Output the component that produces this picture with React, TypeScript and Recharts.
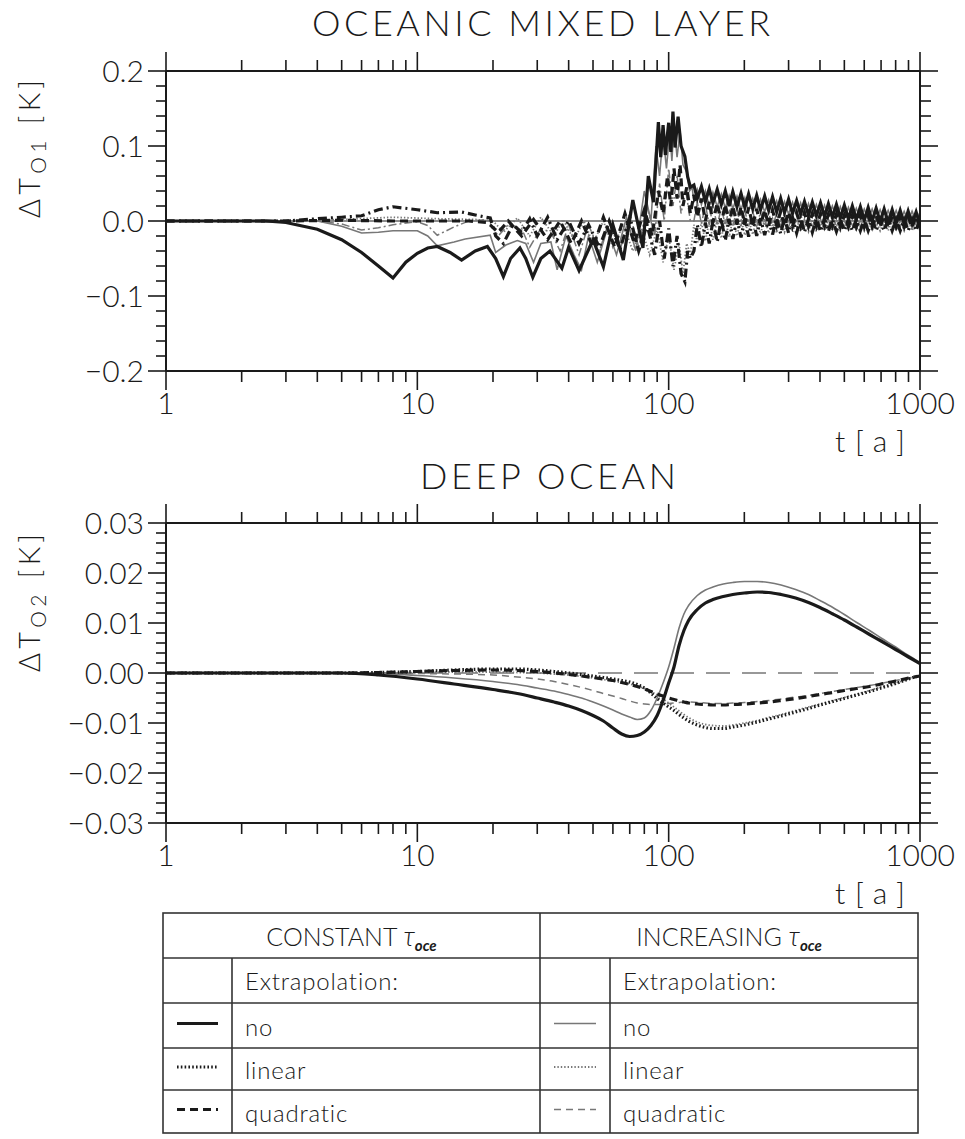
import React from "react";
import { LineChart, Line, XAxis, YAxis, ReferenceLine } from "recharts";

const W = 965;
const PANEL_H = 450;
const FONT = "Lato, 'DejaVu Sans', sans-serif";
const INK = "#1a1a1a";
const GRAY = "#777777";

// ---- axes ----
const xTicks = [1, 2, 3, 4, 5, 6, 7, 8, 9, 10, 20, 30, 40, 50, 60, 70, 80, 90, 100, 200, 300, 400, 500, 600, 700, 800, 900, 1000];
const xLabels = [1, 10, 100, 1000];

const topYTicks = [
  -0.2, -0.18, -0.16, -0.14, -0.12, -0.1, -0.08, -0.06, -0.04, -0.02, 0,
  0.02, 0.04, 0.06, 0.08, 0.1, 0.12, 0.14, 0.16, 0.18, 0.2,
];
const topYLabels = [-0.2, -0.1, 0, 0.1, 0.2];

const botYTicks = [
  -0.03, -0.028, -0.026, -0.024, -0.022, -0.02, -0.018, -0.016, -0.014, -0.012,
  -0.01, -0.008, -0.006, -0.004, -0.002, 0, 0.002, 0.004, 0.006, 0.008,
  0.01, 0.012, 0.014, 0.016, 0.018, 0.02, 0.022, 0.024, 0.026, 0.028, 0.03,
];
const botYLabels = [-0.03, -0.02, -0.01, 0, 0.01, 0.02, 0.03];

// ---- top panel: oceanic mixed layer ----
const topConstNoHead: [number, number][] = [
  [1, 0], [2.5, 0], [3, -0.002], [4, -0.011], [5, -0.025], [6, -0.042], [7, -0.06], [8, -0.076],
  [9, -0.055], [10, -0.043], [11, -0.036], [12, -0.034], [13.5, -0.042], [15, -0.052], [17, -0.04],
  [19, -0.034], [20.5, -0.05], [22, -0.074], [23.5, -0.05], [25.6, -0.036], [27, -0.05], [28.8, -0.075],
  [31, -0.05], [33.7, -0.04], [37.6, -0.063], [40, -0.035], [44, -0.066], [50, -0.025], [55, -0.061],
  [60, -0.005], [66, -0.052], [72, 0.028], [79, -0.036], [83, 0.06], [87, 0.025], [91, 0.132],
  [93, 0.085], [95, 0.128], [97, 0.088], [100, 0.131], [102, 0.092], [104, 0.146], [106, 0.098],
  [109, 0.139], [112, 0.1], [116, 0.086], [119, 0.059], [122, 0.045],
];
const topIncNoHead: [number, number][] = [
  [1, 0], [4, 0], [5, -0.007], [6, -0.016], [7, -0.015], [8, -0.013], [10, -0.013], [11, -0.02],
  [12, -0.033], [14, -0.028], [15.5, -0.024], [19.5, -0.019], [20.5, -0.042], [22.5, -0.032],
  [25, -0.026], [27, -0.03], [29, -0.055], [31, -0.03], [34, -0.028], [36, -0.065], [39, -0.02],
  [42, -0.045], [45, -0.065], [48, -0.02], [52, -0.055], [57, -0.01], [62, -0.045], [68, 0.005],
  [74, -0.04], [80, 0.04], [85, 0.0], [89, 0.1], [92, 0.06], [95, 0.115], [98, 0.07], [101, 0.12],
  [103, 0.08], [105, 0.13], [108, 0.085], [111, 0.12], [114, 0.075], [118, 0.065], [121, 0.04], [124, 0.045],
];
const topConstLinHead: [number, number][] = [
  [1, 0], [3, 0], [4, 0.003], [5, 0.005], [6, 0.007], [7, 0.015], [8, 0.019], [10, 0.015], [12, 0.011],
  [15, 0.012], [17, 0.008], [19.5, 0.004], [20.5, -0.02], [22, -0.03], [24, -0.005], [26, -0.015],
  [28, 0.003], [30, -0.02], [33, 0.005], [36, -0.025], [40, 0.0], [44, -0.03], [48, -0.005], [53, -0.035],
  [58, 0.0], [64, -0.038], [70, 0.005], [76, -0.04], [82, -0.005], [88, -0.045], [92, 0.0], [96, -0.05],
  [100, -0.01], [104, -0.06], [108, -0.02], [112, -0.07], [116, -0.081], [119, -0.04], [122, -0.05],
];
const topIncLinHead: [number, number][] = [
  [1, 0], [3, 0], [5, 0.002], [8, 0.005], [12, 0.003], [17, 0.002], [20, 0.0], [22, -0.015], [25, 0.004],
  [28, -0.02], [31, 0.005], [35, -0.02], [38, 0.002], [42, -0.025], [46, 0.0], [50, -0.03], [55, 0.0],
  [60, -0.035], [66, -0.005], [72, -0.04], [78, -0.01], [84, -0.045], [90, -0.01], [95, -0.055],
  [100, -0.02], [105, -0.065], [110, -0.03], [114, -0.07], [118, -0.03], [122, -0.045],
];
const topConstQuadHead: [number, number][] = [
  [1, 0], [3, 0], [5, 0.001], [8, 0.0], [12, 0.0], [16, 0.0], [19, -0.002], [21, -0.015], [23, 0.0],
  [26, -0.02], [29, 0.002], [33, -0.025], [37, 0.0], [41, -0.03], [45, 0.0], [50, -0.035], [55, 0.005],
  [61, -0.035], [67, 0.01], [73, -0.03], [80, 0.015], [86, -0.02], [91, 0.04], [95, 0.01], [99, 0.06],
  [102, 0.02], [105, 0.07], [108, 0.03], [111, 0.075], [114, 0.02], [118, 0.045], [122, 0.01],
];
const topIncQuadHead: [number, number][] = [
  [1, 0], [4, 0], [5, -0.004], [6, -0.012], [7, -0.009], [8, -0.005], [10, -0.001], [11, -0.006],
  [12, -0.019], [14, -0.008], [16, 0.0], [19, 0.002], [21, -0.02], [23, -0.005], [26, -0.01], [28, -0.035],
  [31, -0.01], [34, -0.015], [37, -0.04], [40, -0.005], [44, -0.045], [48, -0.005], [53, -0.04], [58, 0.0],
  [64, -0.04], [70, 0.01], [76, -0.035], [82, 0.02], [88, -0.02], [92, 0.05], [96, 0.0], [100, 0.07],
  [104, 0.02], [108, 0.06], [112, 0.01], [117, 0.04], [122, 0.0],
];

// oscillating tail, shared time grid
const topTailT = [
  126, 130, 135, 140, 145, 150, 156, 162, 168, 174,
  180, 187, 194, 201, 208, 216, 224, 232, 241, 250,
  259, 269, 279, 289, 300, 311, 323, 335, 347, 360,
  373, 387, 402, 417, 432, 448, 465, 482, 500, 519,
  538, 558, 579, 600, 622, 645, 669, 694, 720, 747,
  775, 804, 834, 865, 897, 930, 965, 1000,
];
const topConstNoTail = [
  0.048, 0.030, 0.046, 0.026, 0.043, 0.024, 0.042, 0.022, 0.040, 0.020,
  0.039, 0.019, 0.037, 0.018, 0.036, 0.016, 0.034, 0.015, 0.033, 0.014,
  0.032, 0.012, 0.030, 0.011, 0.029, 0.010, 0.027, 0.009, 0.026, 0.008,
  0.025, 0.007, 0.024, 0.006, 0.023, 0.005, 0.022, 0.004, 0.021, 0.003,
  0.020, 0.002, 0.019, 0.001, 0.018, 0.000, 0.017, -0.001, 0.016, -0.002,
  0.015, -0.003, 0.014, -0.004, 0.013, -0.004, 0.012, -0.005,
];
const topIncNoTail = [
  0.025, 0.042, 0.022, 0.040, 0.020, 0.038, 0.019, 0.036, 0.017, 0.034,
  0.016, 0.033, 0.015, 0.031, 0.014, 0.030, 0.013, 0.029, 0.012, 0.028,
  0.011, 0.027, 0.010, 0.026, 0.009, 0.025, 0.008, 0.024, 0.007, 0.023,
  0.006, 0.022, 0.005, 0.021, 0.005, 0.020, 0.004, 0.019, 0.003, 0.018,
  0.003, 0.017, 0.002, 0.016, 0.002, 0.016, 0.001, 0.015, 0.001, 0.014,
  0.000, 0.014, 0.000, 0.013, 0.000, 0.013, -0.001, 0.012,
];
const topConstQuadTail = [
  0.035, 0.005, 0.030, 0.000, 0.026, -0.002, 0.024, -0.003, 0.022, -0.004,
  0.020, -0.005, 0.019, -0.005, 0.018, -0.006, 0.016, -0.006, 0.015, -0.006,
  0.014, -0.006, 0.013, -0.007, 0.012, -0.007, 0.011, -0.007, 0.011, -0.007,
  0.010, -0.007, 0.010, -0.007, 0.009, -0.007, 0.009, -0.008, 0.008, -0.008,
  0.008, -0.008, 0.008, -0.008, 0.007, -0.008, 0.007, -0.008, 0.007, -0.008,
  0.006, -0.008, 0.006, -0.008, 0.006, -0.008, 0.006, -0.008,
];
const topIncQuadTail = [
  0.000, 0.025, -0.004, 0.022, -0.005, 0.020, -0.006, 0.018, -0.006, 0.016,
  -0.006, 0.015, -0.007, 0.014, -0.007, 0.013, -0.007, 0.012, -0.007, 0.011,
  -0.007, 0.010, -0.007, 0.010, -0.008, 0.009, -0.008, 0.009, -0.008, 0.008,
  -0.008, 0.008, -0.008, 0.008, -0.008, 0.007, -0.008, 0.007, -0.008, 0.007,
  -0.008, 0.007, -0.008, 0.006, -0.008, 0.006, -0.008, 0.006, -0.008, 0.006,
  -0.008, 0.006, -0.008, 0.006, -0.008, 0.006, -0.008, 0.006,
];
const topConstLinTail = [
  -0.040, -0.005, -0.035, -0.002, -0.030, 0.000, -0.028, 0.002, -0.026, 0.003,
  -0.024, 0.003, -0.022, 0.004, -0.021, 0.004, -0.020, 0.004, -0.019, 0.004,
  -0.018, 0.004, -0.017, 0.004, -0.016, 0.004, -0.016, 0.003, -0.015, 0.003,
  -0.015, 0.003, -0.014, 0.003, -0.014, 0.002, -0.014, 0.002, -0.013, 0.002,
  -0.013, 0.002, -0.013, 0.002, -0.013, 0.002, -0.013, 0.002, -0.013, 0.002,
  -0.013, 0.002, -0.013, 0.002, -0.013, 0.002, -0.013, 0.002,
];
const topIncLinTail = [
  -0.005, -0.030, -0.002, -0.027, 0.000, -0.025, 0.001, -0.023, 0.002, -0.021,
  0.002, -0.020, 0.003, -0.019, 0.003, -0.018, 0.003, -0.017, 0.003, -0.016,
  0.003, -0.016, 0.003, -0.015, 0.002, -0.015, 0.002, -0.014, 0.002, -0.014,
  0.002, -0.014, 0.002, -0.013, 0.002, -0.013, 0.001, -0.013, 0.001, -0.013,
  0.001, -0.013, 0.001, -0.013, 0.001, -0.013, 0.001, -0.013, 0.001, -0.013,
  0.001, -0.013, 0.001, -0.013, 0.001, -0.013, 0.001, -0.013,
];

// ---- bottom panel: deep ocean ----
const botT = [
  1, 3, 5, 7, 10, 14, 20, 25, 30, 35,
  40, 45, 50, 55, 60, 65, 70, 75, 80, 85,
  90, 95, 100, 105, 110, 115, 120, 130, 140, 150,
  165, 180, 200, 225, 250, 280, 320, 360, 400, 450,
  500, 560, 630, 700, 800, 900, 1000,
];
const botConstNo = [
  0, 0, 0, -0.0004, -0.0012, -0.0022, -0.0033, -0.0041, -0.005, -0.0058,
  -0.0066, -0.0075, -0.0085, -0.0096, -0.011, -0.0122, -0.0127, -0.0125, -0.0118, -0.0105,
  -0.0085, -0.0055, -0.002, 0.0012, 0.0055, 0.0085, 0.0105, 0.0127, 0.014, 0.0147,
  0.0153, 0.0157, 0.016, 0.0162, 0.0161, 0.0157, 0.015, 0.0141, 0.0131, 0.0118,
  0.0106, 0.0092, 0.0077, 0.0064, 0.0047, 0.0032, 0.0019,
];
const botIncNo = [
  0, 0, 0, -0.0001, -0.0005, -0.001, -0.0017, -0.0023, -0.003, -0.0036,
  -0.0043, -0.005, -0.0058, -0.0066, -0.0074, -0.0082, -0.0088, -0.0093, -0.009, -0.0075,
  -0.005, -0.002, 0.0012, 0.005, 0.009, 0.0118, 0.0135, 0.0155, 0.0166, 0.0172,
  0.0178, 0.0181, 0.0183, 0.0183, 0.0181, 0.0176, 0.0167, 0.0157, 0.0145, 0.0131,
  0.0117, 0.0101, 0.0085, 0.007, 0.0052, 0.0035, 0.0021,
];
const botConstLin = [
  0, 0, 0, 0.0001, 0.0003, 0.0006, 0.0008, 0.0008, 0.0006, 0.0003,
  0, -0.0003, -0.0006, -0.0009, -0.0012, -0.0015, -0.0018, -0.0023, -0.003, -0.004,
  -0.0051, -0.006, -0.0068, -0.0075, -0.0083, -0.009, -0.0096, -0.0104, -0.0109, -0.0111,
  -0.0111, -0.0108, -0.0104, -0.0098, -0.0092, -0.0086, -0.0078, -0.0071, -0.0064, -0.0057,
  -0.0051, -0.0044, -0.0037, -0.003, -0.0021, -0.0012, -0.0005,
];
const botConstQuad = [
  0, 0, 0, 0.0001, 0.0003, 0.0005, 0.0006, 0.0005, 0.0003, 0,
  -0.0003, -0.0006, -0.0009, -0.0012, -0.0015, -0.0019, -0.0023, -0.0027, -0.0032, -0.0037,
  -0.0042, -0.0046, -0.005, -0.0053, -0.0056, -0.0058, -0.006, -0.0062, -0.0063, -0.0064,
  -0.0064, -0.0063, -0.0062, -0.006, -0.0058, -0.0055, -0.0051, -0.0047, -0.0043, -0.0039,
  -0.0035, -0.0031, -0.0027, -0.0022, -0.0016, -0.001, -0.0006,
];
const botIncLin = [
  0, 0, 0, 0, 0.0001, 0.0002, 0.0002, 0.0001, 0, -0.0002,
  -0.0004, -0.0007, -0.001, -0.0013, -0.0016, -0.0019, -0.0022, -0.0026, -0.0031, -0.0037,
  -0.0044, -0.0052, -0.006, -0.0068, -0.0076, -0.0083, -0.0089, -0.0098, -0.0103, -0.0105,
  -0.0106, -0.0104, -0.01, -0.0095, -0.0089, -0.0083, -0.0075, -0.0068, -0.0062, -0.0055,
  -0.0049, -0.0042, -0.0035, -0.0028, -0.002, -0.0012, -0.0005,
];
const botIncQuad = [
  0, 0, 0, 0, -0.0001, -0.0002, -0.0004, -0.0008, -0.0012, -0.0017,
  -0.0023, -0.0029, -0.0035, -0.0041, -0.0046, -0.0051, -0.0056, -0.006, -0.0062, -0.0063,
  -0.0063, -0.0062, -0.0061, -0.006, -0.0059, -0.0058, -0.0058, -0.0059, -0.006, -0.0061,
  -0.0061, -0.006, -0.0059, -0.0057, -0.0055, -0.0052, -0.0048, -0.0045, -0.0041, -0.0037,
  -0.0033, -0.0029, -0.0025, -0.0021, -0.0015, -0.001, -0.0006,
];

type Pt = { t: number; v: number };

const joinTail = (head: [number, number][], tail: number[]): Pt[] => [
  ...head.map(([t, v]) => ({ t, v })),
  ...topTailT.map((t, i) => ({ t, v: tail[i] })),
];
const onGrid = (vals: number[]): Pt[] => botT.map((t, i) => ({ t, v: vals[i] }));

const STYLE = {
  constNo: { stroke: INK, strokeWidth: 3.2 },
  constLin: { stroke: INK, strokeWidth: 3.2, strokeDasharray: "1.6 2.2" },
  constQuad: { stroke: INK, strokeWidth: 3.2, strokeDasharray: "8 5" },
  incNo: { stroke: GRAY, strokeWidth: 1.6 },
  incLin: { stroke: GRAY, strokeWidth: 1.8, strokeDasharray: "1.4 2" },
  incQuad: { stroke: GRAY, strokeWidth: 1.5, strokeDasharray: "7 5" },
};

type Series = { name: string; data: Pt[]; style: Record<string, any> };

const topSeries: Series[] = [
  { name: "incQuad", data: joinTail(topIncQuadHead, topIncQuadTail), style: { ...STYLE.incQuad, strokeDasharray: "8 3 2 3" } },
  { name: "incLin", data: joinTail(topIncLinHead, topIncLinTail), style: STYLE.incLin },
  { name: "incNo", data: joinTail(topIncNoHead, topIncNoTail), style: STYLE.incNo },
  { name: "constQuad", data: joinTail(topConstQuadHead, topConstQuadTail), style: STYLE.constQuad },
  { name: "constLin", data: joinTail(topConstLinHead, topConstLinTail), style: { ...STYLE.constLin, strokeDasharray: "9 4 2 4" } },
  { name: "constNo", data: joinTail(topConstNoHead, topConstNoTail), style: STYLE.constNo },
];

const botSeries: Series[] = [
  { name: "incQuad", data: onGrid(botIncQuad), style: STYLE.incQuad },
  { name: "incLin", data: onGrid(botIncLin), style: STYLE.incLin },
  { name: "incNo", data: onGrid(botIncNo), style: STYLE.incNo },
  { name: "constQuad", data: onGrid(botConstQuad), style: STYLE.constQuad },
  { name: "constLin", data: onGrid(botConstLin), style: STYLE.constLin },
  { name: "constNo", data: onGrid(botConstNo), style: STYLE.constNo },
];

// ---- ticks ----
const near = (v: number, list: number[]) => list.some((m) => Math.abs(m - v) < 1e-9);
const fmtY = (v: number, digits: number) => {
  const s = Math.abs(v).toFixed(digits);
  return v < -1e-9 ? "\u2212" + s : s;
};
const textProps = { fontFamily: FONT, fontWeight: 300, fill: INK };

function XTickBottom(props: any) {
  const { x, y, payload } = props;
  const major = near(payload.value, xLabels);
  return (
    <g>
      <line x1={x} x2={x} y1={y} y2={y + (major ? 19 : 11)} stroke={INK} strokeWidth={1.6} />
      {major && (
        <text x={x} y={y + 43} textAnchor="middle" fontSize={30} {...textProps}>
          {payload.value}
        </text>
      )}
    </g>
  );
}

function XTickTop(props: any) {
  const { x, y, payload } = props;
  const major = near(payload.value, xLabels);
  return <line x1={x} x2={x} y1={y} y2={y - (major ? 19 : 11)} stroke={INK} strokeWidth={1.6} />;
}

const makeYTickLeft = (majors: number[], digits: number) =>
  function YTickLeft(props: any) {
    const { x, y, payload } = props;
    const major = near(payload.value, majors);
    return (
      <g>
        <line x1={x} x2={x - (major ? 18 : 10)} y1={y} y2={y} stroke={INK} strokeWidth={1.6} />
        {major && (
          <text x={x - 22} y={y} dy="0.36em" textAnchor="end" fontSize={30} {...textProps}>
            {fmtY(payload.value, digits)}
          </text>
        )}
      </g>
    );
  };

const makeYTickRight = (majors: number[]) =>
  function YTickRight(props: any) {
    const { x, y, payload } = props;
    const major = near(payload.value, majors);
    return <line x1={x} x2={x + (major ? 18 : 11)} y1={y} y2={y} stroke={INK} strokeWidth={1.6} />;
  };

type PanelProps = {
  top: number;
  domain: [number, number];
  yTicks: number[];
  yMajors: number[];
  digits: number;
  series: Series[];
  zeroDash?: string;
  curve: "linear" | "monotone";
};

function Panel({ top, domain, yTicks, yMajors, digits, series, zeroDash, curve }: PanelProps) {
  const axisLine = { stroke: INK, strokeWidth: 2 };
  const common = {
    tickSize: 0,
    tickMargin: 0,
    tickLine: false,
    axisLine,
    allowDataOverflow: true,
    interval: 0 as const,
  };
  return (
    <div style={{ position: "absolute", left: 0, top }}>
      <LineChart width={W} height={PANEL_H} margin={{ top: 70, right: 44, bottom: 78, left: 165 }}>
        <XAxis
          xAxisId="b"
          dataKey="t"
          type="number"
          scale="log"
          domain={[1, 1000]}
          ticks={xTicks}
          height={1}
          tick={XTickBottom}
          {...common}
        />
        <XAxis
          xAxisId="t"
          orientation="top"
          dataKey="t"
          type="number"
          scale="log"
          domain={[1, 1000]}
          ticks={xTicks}
          height={1}
          tick={XTickTop}
          {...common}
        />
        <YAxis
          yAxisId="l"
          type="number"
          domain={domain}
          ticks={yTicks}
          width={1}
          tick={makeYTickLeft(yMajors, digits)}
          {...common}
        />
        <YAxis
          yAxisId="r"
          orientation="right"
          type="number"
          domain={domain}
          ticks={yTicks}
          width={1}
          tick={makeYTickRight(yMajors)}
          {...common}
        />
        <ReferenceLine
          xAxisId="b"
          yAxisId="l"
          y={0}
          stroke={zeroDash ? GRAY : INK}
          strokeWidth={zeroDash ? 1.6 : 1.2}
          strokeDasharray={zeroDash}
        />
        {series.map((s) => (
          <Line
            key={s.name}
            xAxisId="b"
            yAxisId="l"
            data={s.data}
            dataKey="v"
            type={curve}
            dot={false}
            activeDot={false}
            isAnimationActive={false}
            strokeLinecap="butt"
            {...s.style}
          />
        ))}
      </LineChart>
    </div>
  );
}

function YTitle({ cy, sub }: { cy: number; sub: string }) {
  return (
    <text
      transform={`translate(40,${cy}) rotate(-90)`}
      textAnchor="middle"
      fontSize={29}
      textLength={138}
      lengthAdjust="spacing"
      {...textProps}
    >
      {"\u0394T"}
      <tspan fontSize={21} dy={6}>
        {sub}
      </tspan>
      <tspan dy={-6}>{" [K]"}</tspan>
    </text>
  );
}

function LegendTable() {
  const L = 163, R = 918, M = 540, C1 = 232, C2 = 610;
  const rows = [913, 958, 1003, 1048, 1090, 1133];
  const border = { stroke: "#333", strokeWidth: 1.6 };
  const items = [
    { label: "no", left: STYLE.constNo, right: STYLE.incNo },
    { label: "linear", left: STYLE.constLin, right: STYLE.incLin },
    { label: "quadratic", left: STYLE.constQuad, right: STYLE.incQuad },
  ];
  const tau = (x: number, text: string) => (
    <text x={x} y={946} textAnchor="middle" fontSize={25} {...textProps}>
      {text}{" "}
      <tspan fontStyle="italic" fontSize={27}>
        {"\u03C4"}
      </tspan>
      <tspan fontStyle="italic" fontWeight={700} fontSize={15} dy={5}>
        oce
      </tspan>
    </text>
  );
  return (
    <g>
      <rect x={L} y={rows[0]} width={R - L} height={rows[5] - rows[0]} fill="none" {...border} />
      {rows.slice(1, 5).map((y) => (
        <line key={y} x1={L} x2={R} y1={y} y2={y} {...border} />
      ))}
      <line x1={M} x2={M} y1={rows[0]} y2={rows[5]} {...border} />
      <line x1={C1} x2={C1} y1={rows[1]} y2={rows[5]} {...border} />
      <line x1={C2} x2={C2} y1={rows[1]} y2={rows[5]} {...border} />
      {tau((L + M) / 2, "CONSTANT")}
      {tau((M + R) / 2, "INCREASING")}
      <text x={C1 + 13} y={990} fontSize={24} letterSpacing={0.8} {...textProps}>
        Extrapolation:
      </text>
      <text x={C2 + 13} y={990} fontSize={24} letterSpacing={0.8} {...textProps}>
        Extrapolation:
      </text>
      {items.map((it, i) => {
        const y0 = rows[i + 2];
        const y1 = rows[i + 3];
        const cy = (y0 + y1) / 2;
        return (
          <g key={it.label}>
            <line x1={L + 14} x2={C1 - 14} y1={cy - 2} y2={cy - 2} {...it.left} />
            <line x1={M + 14} x2={C2 - 14} y1={cy - 2} y2={cy - 2} {...it.right} />
            <text x={C1 + 13} y={cy + 10} fontSize={24} letterSpacing={0.8} {...textProps}>
              {it.label}
            </text>
            <text x={C2 + 13} y={cy + 10} fontSize={24} letterSpacing={0.8} {...textProps}>
              {it.label}
            </text>
          </g>
        );
      })}
    </g>
  );
}

export default function App() {
  return (
    <div style={{ position: "absolute", left: 0, top: 0, width: W, height: 1139, background: "#fff", overflow: "hidden" }}>
      <Panel
        top={0}
        domain={[-0.2, 0.2]}
        yTicks={topYTicks}
        yMajors={topYLabels}
        digits={1}
        series={topSeries}
        curve="linear"
      />
      <Panel
        top={452}
        domain={[-0.03, 0.03]}
        yTicks={botYTicks}
        yMajors={botYLabels}
        digits={2}
        series={botSeries}
        zeroDash="24 12"
        curve="monotone"
      />
      <svg width={W} height={1139} style={{ position: "absolute", left: 0, top: 0, pointerEvents: "none" }}>
        <text x={541} y={36} textAnchor="middle" fontSize={36} textLength={458} lengthAdjust="spacing" {...textProps}>
          OCEANIC MIXED LAYER
        </text>
        <text x={548} y={489} textAnchor="middle" fontSize={36} textLength={256} lengthAdjust="spacing" {...textProps}>
          DEEP OCEAN
        </text>
        <YTitle cy={149} sub="O1" />
        <YTitle cy={603} sub="O2" />
        <text x={870} y={452} textAnchor="middle" fontSize={30} textLength={70} lengthAdjust="spacing" {...textProps}>
          t[a]
        </text>
        <text x={870} y={904} textAnchor="middle" fontSize={30} textLength={70} lengthAdjust="spacing" {...textProps}>
          t[a]
        </text>
        <LegendTable />
      </svg>
    </div>
  );
}
